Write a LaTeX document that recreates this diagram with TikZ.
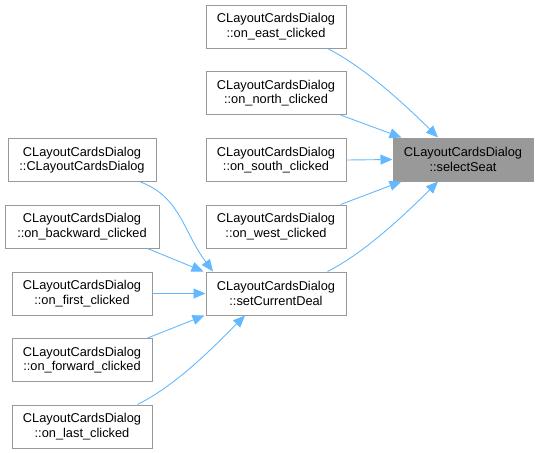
\documentclass[tikz,border=0pt]{standalone}
\usepackage{fontspec}
\setmainfont{Liberation Sans}
\usetikzlibrary{arrows.meta,calc}
\definecolor{edgeblue}{HTML}{63B8FF}
\definecolor{boxgray}{HTML}{999999}
\begin{document}
\begin{tikzpicture}[x=1pt,y=-1pt,
  fn/.style={draw=boxgray,line width=1pt,fill=white,minimum height=43pt,inner sep=0pt,align=center,
    font=\fontsize{12.8}{14.5}\selectfont,text=black},
  sel/.style={fn,fill=boxgray},
  edge/.style={draw=edgeblue,line width=0.9pt,-{Triangle[length=12pt,width=10pt]}}]
\useasboundingbox (0,0) rectangle (539,453);
\node[fn,minimum width=140pt] (east)  at (276,26.5)  {CLayoutCardsDialog\\::on\_east\_clicked};
\node[fn,minimum width=140pt] (north) at (276,93)    {CLayoutCardsDialog\\::on\_north\_clicked};
\node[fn,minimum width=140pt] (south) at (276,160)   {CLayoutCardsDialog\\::on\_south\_clicked};
\node[fn,minimum width=140pt] (west)  at (276,226.5) {CLayoutCardsDialog\\::on\_west\_clicked};
\node[fn,minimum width=140pt] (scd)   at (276,293.5) {CLayoutCardsDialog\\::setCurrentDeal};
\node[sel,minimum width=140pt] (seat) at (463,159.5) {CLayoutCardsDialog\\::selectSeat};
\node[fn,minimum width=148pt] (ctor)  at (82,160)    {CLayoutCardsDialog\\::CLayoutCardsDialog};
\node[fn,minimum width=154pt] (back)  at (82,226.5)  {CLayoutCardsDialog\\::on\_backward\_clicked};
\node[fn,minimum width=140pt] (first) at (82,293.5)  {CLayoutCardsDialog\\::on\_first\_clicked};
\node[fn,minimum width=140pt] (fwd)   at (82,360)    {CLayoutCardsDialog\\::on\_forward\_clicked};
\node[fn,minimum width=140pt] (last)  at (82,426.5)  {CLayoutCardsDialog\\::on\_last\_clicked};

\draw[edge] ([xshift=-19pt]east.south east) .. controls +(40,20) and +(-25,-25) .. ([xshift=-25pt]seat.north);
\draw[edge] ([xshift=-6pt]north.south east) -- ([xshift=9pt]seat.north west);
\draw[edge] (south.east) -- (seat.west);
\draw[edge] ([xshift=-6pt]west.north east) -- ([xshift=9pt]seat.south west);
\draw[edge] ([xshift=-19pt]scd.north east) .. controls +(40,-20) and +(-25,25) .. ([xshift=-25pt]seat.south);
\draw[edge] ([xshift=-16pt]ctor.south east) .. controls +(40,15) and +(-30,-40) .. ([xshift=-63pt]scd.north);
\draw[edge] ([xshift=-12pt]back.south east) -- ([xshift=-2pt]scd.north west);
\draw[edge] (first.east) -- (scd.west);
\draw[edge] ([xshift=-5pt]fwd.north east) -- ([xshift=-1pt]scd.south west);
\draw[edge] ([xshift=-15pt]last.north east) .. controls +(40,-20) and +(-30,30) .. ([xshift=-31pt]scd.south);
\end{tikzpicture}
\end{document}
